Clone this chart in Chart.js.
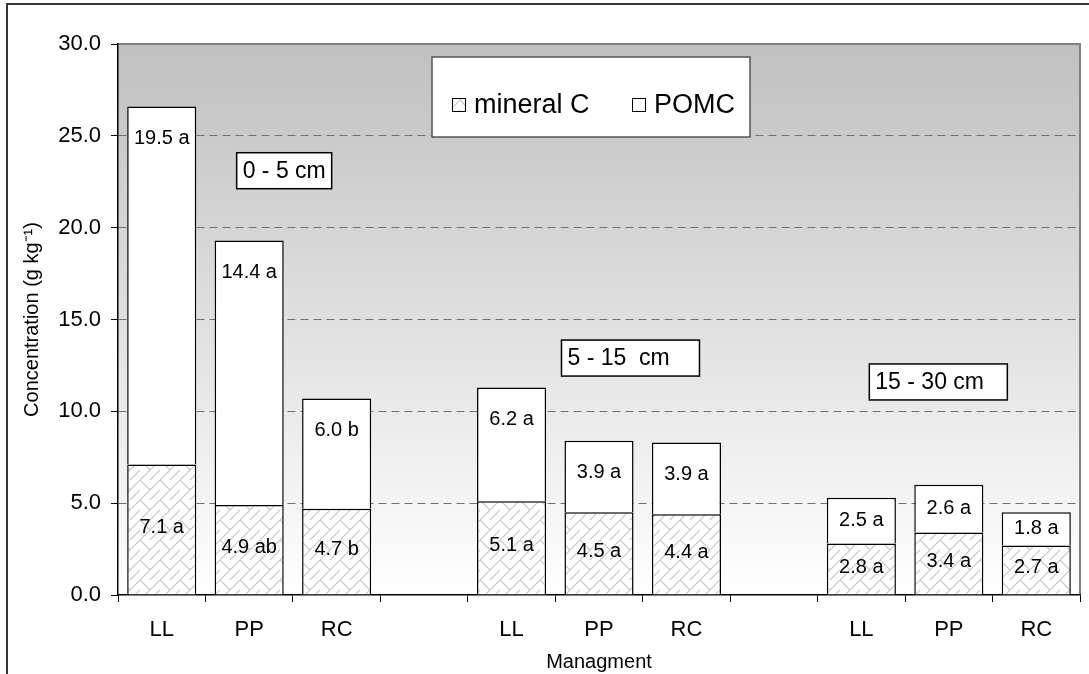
<!DOCTYPE html>
<html>
<head>
<meta charset="utf-8">
<script src="https://cdn.jsdelivr.net/npm/chart.js@4/dist/chart.umd.min.js"></script>
<style>
  html, body { margin: 0; padding: 0; background: #fff; }
  #wrap { width: 1089px; height: 674px; position: relative; }
</style>
</head>
<body>
<div id="wrap"><canvas id="chart"></canvas></div>
<script>
// categories (blank entries are the gaps between depth groups)
const categories = ['LL', 'PP', 'RC', '', 'LL', 'PP', 'RC', '', 'LL', 'PP', 'RC'];

// series values, g kg-1
const mineralC = [7.1, 4.9, 4.7, null, 5.1, 4.5, 4.4, null, 2.8, 3.4, 2.7];
const pomc     = [19.5, 14.4, 6.0, null, 6.2, 3.9, 3.9, null, 2.5, 2.6, 1.8];

// significance letters shown after each value
const mineralLetters = ['a', 'ab', 'b', '', 'a', 'a', 'a', '', 'a', 'a', 'a'];
const pomcLetters    = ['a', 'a', 'b', '', 'a', 'a', 'a', '', 'a', 'a', 'a'];

// depth group captions
const depthLabels = ['0 - 5 cm', '5 - 15  cm', '15 - 30 cm'];
const depthAnchorX = [1.4, 5.36, 8.88];   // category index
const depthAnchorY = [23.1, 12.9, 11.6];  // value

const yTicks = [0, 5, 10, 15, 20, 25, 30];

const FONT = 'Liberation Sans, Arial, sans-serif';

// light grey crosshatch used for mineral C
function makeHatch() {
  const c = document.createElement('canvas');
  c.width = 20; c.height = 20;
  const g = c.getContext('2d');
  g.fillStyle = '#ffffff';
  g.fillRect(0, 0, 20, 20);
  g.strokeStyle = '#c8c8c8';
  g.lineWidth = 1.2;
  g.beginPath();
  g.moveTo(0, 20); g.lineTo(20, 0);
  g.moveTo(0, 0); g.lineTo(10, 10);
  g.moveTo(10, 20); g.lineTo(20, 10);
  g.stroke();
  return g.createPattern(c, 'repeat');
}

const ctx0 = document.getElementById('chart').getContext('2d');
const hatch = makeHatch();

// gradient plot background, grey borders, outer frame
const backdrop = {
  id: 'backdrop',
  beforeDraw(chart) {
    const { ctx, chartArea: a } = chart;
    ctx.save();
    ctx.strokeStyle = '#333';
    ctx.lineWidth = 2;
    ctx.strokeRect(7, 4, 1200, 1000);
    const grad = ctx.createLinearGradient(0, a.top, 0, a.bottom);
    grad.addColorStop(0, '#c0c0c0');
    grad.addColorStop(1, '#ffffff');
    ctx.fillStyle = grad;
    ctx.fillRect(a.left, a.top, a.right - a.left, a.bottom - a.top);
    ctx.strokeStyle = '#808080';
    ctx.lineWidth = 2;
    ctx.beginPath();
    ctx.moveTo(a.left, a.top);
    ctx.lineTo(a.right, a.top);
    ctx.lineTo(a.right, a.bottom);
    ctx.stroke();
    ctx.restore();
  }
};

// value labels inside the bar segments, legend box and depth captions
const annotations = {
  id: 'annotations',
  afterDatasetsDraw(chart) {
    const { ctx, chartArea: a, scales } = chart;
    ctx.save();
    ctx.font = '20px ' + FONT;
    ctx.fillStyle = '#000';
    ctx.textAlign = 'center';
    ctx.textBaseline = 'middle';

    chart.getDatasetMeta(0).data.forEach((bar, i) => {
      if (mineralC[i] == null) return;
      const mid = (bar.y + bar.base) / 2;
      ctx.fillText(mineralC[i].toFixed(1) + ' ' + mineralLetters[i], bar.x, mid - 2);
    });
    chart.getDatasetMeta(1).data.forEach((bar, i) => {
      if (pomc[i] == null) return;
      const h = bar.base - bar.y;
      const y = bar.y + Math.min(h / 2, 32);
      ctx.fillText(pomc[i].toFixed(1) + ' ' + pomcLetters[i], bar.x, y);
    });

    // depth captions
    ctx.font = '23px ' + FONT;
    ctx.textAlign = 'left';
    depthLabels.forEach((txt, k) => {
      const cx = scales.x.getPixelForValue(depthAnchorX[k]);
      const cy = scales.y.getPixelForValue(depthAnchorY[k]);
      const w = k === 0 ? 95 : 138;
      const h = 36;
      ctx.fillStyle = '#fff';
      ctx.fillRect(cx - w / 2, cy - h / 2, w, h);
      ctx.strokeStyle = '#000';
      ctx.lineWidth = 1.5;
      ctx.strokeRect(cx - w / 2, cy - h / 2, w, h);
      ctx.fillStyle = '#000';
      ctx.fillText(txt, cx - w / 2 + 6, cy + 1);
    });

    // legend box
    const lx = a.left + 314, ly = a.top + 13, lw = 318, lh = 80;
    ctx.fillStyle = '#fff';
    ctx.fillRect(lx, ly, lw, lh);
    ctx.strokeStyle = '#555';
    ctx.lineWidth = 1.5;
    ctx.strokeRect(lx, ly, lw, lh);
    ctx.font = '27px ' + FONT;
    const rowY = ly + 48;
    chart.data.datasets.forEach((ds, k) => {
      const sx = lx + 20 + k * 180;
      ctx.fillStyle = ds.backgroundColor;
      ctx.fillRect(sx, rowY - 7, 14, 14);
      ctx.strokeStyle = '#000';
      ctx.lineWidth = 1;
      ctx.strokeRect(sx + 0.5, rowY - 6.5, 13, 13);
      ctx.fillStyle = '#000';
      ctx.fillText(ds.label, sx + 22, rowY + 1);
    });
    ctx.restore();
  }
};

new Chart(ctx0, {
  type: 'bar',
  data: {
    labels: categories,
    datasets: [
      {
        label: 'mineral C',
        data: mineralC,
        backgroundColor: hatch,
        borderColor: '#000',
        borderWidth: 1.5,
        barPercentage: 0.79,
        categoryPercentage: 1
      },
      {
        label: 'POMC',
        data: pomc,
        backgroundColor: '#ffffff',
        borderColor: '#000',
        borderWidth: 1.5,
        barPercentage: 0.79,
        categoryPercentage: 1
      }
    ]
  },
  options: {
    responsive: true,
    maintainAspectRatio: false,
    animation: false,
    layout: { padding: { top: 44, right: 9, left: 0, bottom: 0 } },
    plugins: {
      legend: { display: false },
      tooltip: { enabled: false }
    },
    scales: {
      x: {
        stacked: true,
        grid: {
          display: true,
          offset: true,
          drawOnChartArea: false,
          tickLength: 7,
          tickColor: '#000',
          tickWidth: 1
        },
        border: { color: '#000', width: 1.5 },
        ticks: {
          color: '#000',
          font: { family: FONT, size: 22 },
          padding: 15,
          maxRotation: 0,
          autoSkip: false
        },
        title: {
          display: true,
          text: 'Managment',
          color: '#000',
          font: { family: FONT, size: 20 },
          padding: { top: 0, bottom: 0 }
        },
        afterFit(scale) { scale.height = 79; }
      },
      y: {
        stacked: true,
        min: 0,
        max: 30,
        afterBuildTicks(scale) {
          scale.ticks = yTicks.map(v => ({ value: v }));
        },
        grid: {
          color: c => (c.tick && (c.tick.value === 0 || c.tick.value === 30)) ? 'rgba(0,0,0,0)' : '#707070',
          lineWidth: 1,
          tickBorderDash: [],
          tickColor: '#000',
          tickLength: 7
        },
        border: { color: '#000', width: 1.5, dash: [8, 5] },
        ticks: {
          color: '#000',
          font: { family: FONT, size: 22 },
          padding: 10,
          callback: v => Number(v).toFixed(1)
        },
        title: {
          display: true,
          text: 'Concentration (g kg⁻¹)',
          color: '#000',
          font: { family: FONT, size: 20 },
          padding: { top: 20, bottom: 0 }
        },
        afterFit(scale) { scale.width = 118; }
      }
    }
  },
  plugins: [backdrop, annotations]
});
</script>
</body>
</html>
